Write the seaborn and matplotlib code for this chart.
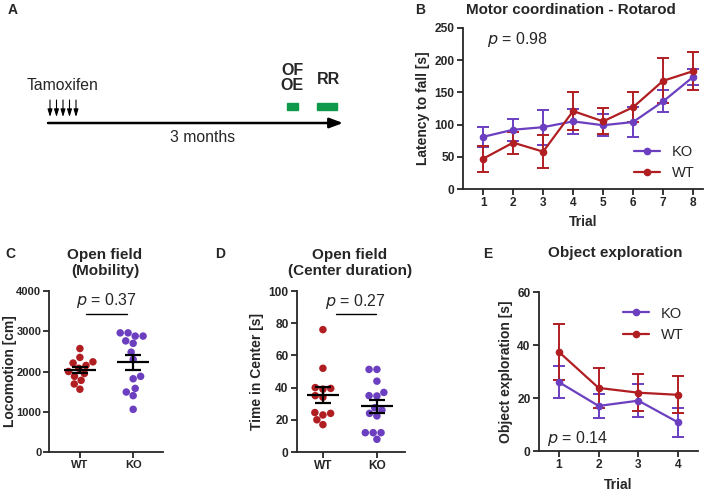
import numpy as np
import pandas as pd
import matplotlib
matplotlib.use("Agg")
import matplotlib.pyplot as plt
import seaborn as sns

# Data
rot_trials = [1, 2, 3, 4, 5, 6, 7, 8]
rot_ko_mean = [81, 92, 96, 105, 99, 104, 136, 174]
rot_ko_sem = [16, 17, 27, 19, 17, 24, 17, 13]
rot_wt_mean = [47, 72, 58, 121, 105, 127, 168, 183]
rot_wt_sem = [20, 17, 26, 30, 20, 23, 35, 30]

of_wt = [2570, 2350, 2210, 2240, 2150, 1950, 2080, 1780, 1880, 1690, 1560, 2000]
of_ko = [2880, 2960, 2960, 2880, 2700, 2760, 2480, 2300, 1880, 1820, 1580, 1490, 1400, 1060]

cd_wt = [76, 52, 40, 39, 39.5, 35, 34, 24, 23, 24.5, 20, 17]
cd_ko = [51.3, 51.3, 44, 37, 35, 34.8, 27.5, 26, 24, 22.4, 12, 12, 12, 7.9]

oe_trials = [1, 2, 3, 4]
oe_ko_mean = [26, 17, 19, 10.8]
oe_ko_sem = [6, 4.5, 6.3, 5.4]
oe_wt_mean = [37.4, 23.8, 22, 21.2]
oe_wt_sem = [10.7, 7.7, 7, 7]

KO_COLOR = "#6B3FC0"
WT_COLOR = "#B01E22"
GREEN = "#0E9A4A"

sns.set_style("ticks")
plt.rcParams['font.family'] = ['Liberation Sans', 'DejaVu Sans']
plt.rcParams['axes.linewidth'] = 1.3
plt.rcParams['xtick.major.width'] = 1.3
plt.rcParams['ytick.major.width'] = 1.3
plt.rcParams['xtick.major.size'] = 4
plt.rcParams['ytick.major.size'] = 4

W, H = 709, 494
fig = plt.figure(figsize=(W / 100, H / 100), dpi=100)


def add_axes(left, top, right, bottom):
    return fig.add_axes([left / W, 1 - bottom / H, (right - left) / W, (bottom - top) / H])


def style_axes(ax, size=8.6):
    sns.despine(ax=ax)
    ax.tick_params(labelsize=size, pad=2)
    for lab in ax.get_xticklabels() + ax.get_yticklabels():
        lab.set_fontweight('bold')


def fig_text(x, y, s, **kw):
    fig.text(x / W, 1 - y / H, s, **kw)


# Panel A: timeline
axA = fig.add_axes([0, 0, 1, 1])
axA.set_xlim(0, W)
axA.set_ylim(H, 0)
axA.axis('off')
axA.annotate("", xy=(343, 123), xytext=(48, 123),
             arrowprops=dict(arrowstyle="-|>,head_length=0.8,head_width=0.3", color="black", lw=1.8,
                             shrinkA=0, shrinkB=0))
for xa in [50, 56.5, 63, 69.5, 76]:
    axA.annotate("", xy=(xa, 117), xytext=(xa, 100),
                 arrowprops=dict(arrowstyle="-|>,head_length=0.45,head_width=0.14", color="black", lw=0.8,
                                 shrinkA=0, shrinkB=0))
axA.text(27, 86, "Tamoxifen", fontsize=11.3, va='center', ha='left')
axA.text(203, 137, "3 months", fontsize=11.3, va='center', ha='center')
axA.text(292, 78, "OF\nOE", fontsize=11.5, fontweight='bold', va='center', ha='center', linespacing=1.0)
axA.text(328, 79, "RR", fontsize=11.5, fontweight='bold', va='center', ha='center')
axA.add_patch(plt.Rectangle((287, 103), 11, 7, color=GREEN))
axA.add_patch(plt.Rectangle((317, 103), 20, 7, color=GREEN))

# Panel labels and titles
for lbl, x, y in [("A", 13, 10), ("B", 420, 10), ("C", 10, 254), ("D", 220, 254), ("E", 488, 254)]:
    fig_text(x, y, lbl, fontsize=10, fontweight='bold', va='center', ha='center')
fig_text(571, 10, "Motor coordination - Rotarod", fontsize=10.9, fontweight='bold', va='center', ha='center')
fig_text(105, 263, "Open field\n(Mobility)", fontsize=11, fontweight='bold', va='center', ha='center')
fig_text(350, 263, "Open field\n(Center duration)", fontsize=11, fontweight='bold', va='center', ha='center')
fig_text(615, 253, "Object exploration", fontsize=11, fontweight='bold', va='center', ha='center')


def line_panel(ax, trials, ko_m, ko_s, wt_m, wt_s):
    df = pd.DataFrame({
        'Trial': trials * 2,
        'value': ko_m + wt_m,
        'group': ['KO'] * len(trials) + ['WT'] * len(trials),
    })
    for m, s, c in [(ko_m, ko_s, KO_COLOR), (wt_m, wt_s, WT_COLOR)]:
        ax.errorbar(trials, m, yerr=s, fmt='none', ecolor=c, elinewidth=1.4, capsize=4, capthick=1.4, zorder=2)
    sns.lineplot(data=df, x='Trial', y='value', hue='group', palette={'KO': KO_COLOR, 'WT': WT_COLOR},
                 marker='o', markersize=5.5, markeredgewidth=0, linewidth=1.6, ax=ax, zorder=3)


# Panel B
axB = add_axes(463, 28, 703, 189)
line_panel(axB, rot_trials, rot_ko_mean, rot_ko_sem, rot_wt_mean, rot_wt_sem)
axB.set_xlim(0.33, 8.33)
axB.set_ylim(0, 250)
axB.set_xticks(rot_trials)
axB.set_yticks([0, 50, 100, 150, 200, 250])
axB.set_xlabel("Trial", fontsize=10, fontweight='bold')
axB.set_ylabel("Latency to fall [s]", fontsize=10, fontweight='bold', labelpad=3)
axB.text(0.1, 0.93, r"$\it{p}$ = 0.98", transform=axB.transAxes, fontsize=11.5, va='center', ha='left')
axB.legend(loc='lower right', frameon=False, fontsize=10.5, title=None, handlelength=1.8,
           borderaxespad=0.2, labelspacing=0.5)
style_axes(axB)


def scatter_panel(ax, wt, ko, size):
    df = pd.DataFrame({'group': ['WT'] * len(wt) + ['KO'] * len(ko), 'value': wt + ko})
    sns.swarmplot(data=df, x='group', y='value', hue='group', order=['WT', 'KO'],
                  palette={'WT': WT_COLOR, 'KO': KO_COLOR}, size=size, linewidth=0, ax=ax,
                  legend=False, zorder=2)
    for i, vals in enumerate([wt, ko]):
        v = np.array(vals)
        m = v.mean()
        se = v.std(ddof=1) / np.sqrt(len(v))
        ax.hlines(m, i - 0.3, i + 0.3, color='black', lw=1.6, zorder=3)
        ax.errorbar(i, m, yerr=se, fmt='none', ecolor='black', elinewidth=1.6, capsize=5.5, capthick=1.6, zorder=3)


# Panel C
axC = add_axes(49, 291, 163, 452)
scatter_panel(axC, of_wt, of_ko, 5.4)
axC.set_xlim(-0.58, 1.56)
axC.set_ylim(0, 4000)
axC.set_yticks([0, 1000, 2000, 3000, 4000])
axC.set_xlabel("")
axC.set_ylabel("Locomotion [cm]", fontsize=10, fontweight='bold')
axC.plot([0.12, 0.88], [3420, 3420], color='black', lw=1)
axC.text(0.5, 3770, r"$\it{p}$ = 0.37", fontsize=11.5, ha='center', va='center')
style_axes(axC, size=8)
axC.tick_params(axis='y', pad=1.5)
axC.yaxis.set_label_coords(-0.285, 0.5)

# Panel D
axD = add_axes(297, 291, 405, 452)
scatter_panel(axD, cd_wt, cd_ko, 5.4)
axD.set_xlim(-0.48, 1.52)
axD.set_ylim(0, 100)
axD.set_yticks([0, 20, 40, 60, 80, 100])
axD.set_xlabel("")
axD.set_ylabel("Time in Center [s]", fontsize=10, fontweight='bold', labelpad=3)
axD.plot([0.24, 0.98], [85.5, 85.5], color='black', lw=1)
axD.text(0.6, 93.5, r"$\it{p}$ = 0.27", fontsize=11.5, ha='center', va='center')
style_axes(axD)

# Panel E
axE = add_axes(539, 292, 698, 451)
line_panel(axE, oe_trials, oe_ko_mean, oe_ko_sem, oe_wt_mean, oe_wt_sem)
axE.set_xlim(0.5, 4.5)
axE.set_ylim(0, 60)
axE.set_xticks(oe_trials)
axE.set_yticks([0, 20, 40, 60])
axE.set_xlabel("Trial", fontsize=10, fontweight='bold', labelpad=5)
axE.set_ylabel("Object exploration [s]", fontsize=10, fontweight='bold', labelpad=3)
axE.text(0.05, 0.08, r"$\it{p}$ = 0.14", transform=axE.transAxes, fontsize=11.5, va='center', ha='left')
axE.legend(loc='upper right', frameon=False, fontsize=10.5, title=None, handlelength=1.8,
           borderaxespad=0.6, labelspacing=0.5)
style_axes(axE)

fig.savefig("out.png", dpi=100)
